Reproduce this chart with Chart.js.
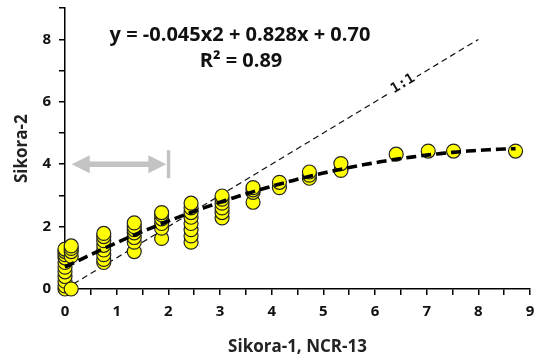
<!DOCTYPE html>
<html>
<head>
<meta charset="utf-8">
<script src="https://cdn.jsdelivr.net/npm/chart.js@4.4.1/dist/chart.umd.min.js"></script>
<style>
  html, body { margin: 0; padding: 0; background: #ffffff; }
  #wrap { width: 547px; height: 362px; }
</style>
</head>
<body>
<div id="wrap"><canvas id="c" width="547" height="362"></canvas></div>
<script>
// Paired readings: Sikora-1 (NCR-13) on x, Sikora-2 on y
const sikora1 = [
  0, 0, 0, 0, 0, 0, 0, 0, 0, 0, 0,
  0.12, 0.12, 0.12, 0.12, 0.12,
  0.75, 0.75, 0.75, 0.75, 0.75, 0.75, 0.75, 0.75,
  1.34, 1.34, 1.34, 1.34, 1.34, 1.34, 1.34,
  1.87, 1.87, 1.87, 1.87, 1.87, 1.87,
  2.44, 2.44, 2.44, 2.44, 2.44, 2.44, 2.44, 2.44,
  3.04, 3.04, 3.04, 3.04, 3.04, 3.04,
  3.64, 3.64, 3.64, 3.64,
  4.15, 4.15,
  4.73, 4.73, 4.73,
  5.34, 5.34,
  6.41, 7.03, 7.52, 8.72
];
const sikora2 = [
  0.0, 0.1, 0.25, 0.4, 0.55, 0.7, 0.85, 1.0, 1.1, 1.2, 1.28,
  0.0, 1.05, 1.2, 1.3, 1.38,
  0.85, 0.95, 1.1, 1.25, 1.4, 1.55, 1.68, 1.78,
  1.2, 1.5, 1.65, 1.8, 1.9, 2.0, 2.12,
  1.62, 1.95, 2.1, 2.25, 2.38, 2.45,
  1.5, 1.7, 1.9, 2.1, 2.3, 2.45, 2.6, 2.75,
  2.28, 2.45, 2.6, 2.75, 2.88, 2.98,
  2.78, 3.1, 3.18, 3.25,
  3.25, 3.42,
  3.55, 3.65, 3.75,
  3.8, 4.02,
  4.32, 4.42, 4.42, 4.42
];

// Quadratic fit coefficients (a·x² + b·x + c) and its R²
const fitA = -0.045, fitB = 0.828, fitC = 0.70, fitR2 = 0.89;
const fitRange = [0, 8.72];
const oneToOne = [0, 8];

// Gray range marker at Sikora-2 = 4, spanning Sikora-1 from 0 to 2
const rangeMarker = { y: 4, x0: 0.13, x1: 2.0, bar: 2.0 };

const xTickLabels = ['0', '1', '2', '3', '4', '5', '6', '7', '8', '9'];
const yTickLabels = ['0', '2', '4', '6', '8'];

const points = sikora1.map((x, i) => ({ x: x, y: sikora2[i] }));
const fitPoints = [];
for (let k = 0; k <= 88; k++) {
  const x = Math.min(fitRange[0] + k * 0.1, fitRange[1]);
  fitPoints.push({ x: x, y: fitA * x * x + fitB * x + fitC });
}
const idPoints = oneToOne.map(v => ({ x: v, y: v }));

const FONT = '"Open Sans", Lato, sans-serif';

const overlay = {
  id: 'overlay',
  afterDatasetsDraw(chart) {
    const ctx = chart.ctx;
    const xs = chart.scales.x, ys = chart.scales.y;
    ctx.save();

    // range marker: double arrow + end bar
    const yp = ys.getPixelForValue(rangeMarker.y);
    const xa = xs.getPixelForValue(rangeMarker.x0);
    const xb = xs.getPixelForValue(rangeMarker.x1) - 2;
    const head = 18, half = 9, shaft = 2.7;
    ctx.fillStyle = '#c3c3c3';
    ctx.beginPath();
    ctx.moveTo(xa, yp);
    ctx.lineTo(xa + head, yp - half);
    ctx.lineTo(xa + head, yp - shaft);
    ctx.lineTo(xb - head, yp - shaft);
    ctx.lineTo(xb - head, yp - half);
    ctx.lineTo(xb, yp);
    ctx.lineTo(xb - head, yp + half);
    ctx.lineTo(xb - head, yp + shaft);
    ctx.lineTo(xa + head, yp + shaft);
    ctx.lineTo(xa + head, yp + half);
    ctx.closePath();
    ctx.fill();
    const xbar = xs.getPixelForValue(rangeMarker.bar);
    ctx.fillRect(xbar - 1.5, yp - 14, 3.5, 28);

    // 1:1 label sitting on the identity line
    const lx = xs.getPixelForValue(6.55), ly = ys.getPixelForValue(6.55);
    const ang = Math.atan2(ys.getPixelForValue(8) - ys.getPixelForValue(0),
                           xs.getPixelForValue(8) - xs.getPixelForValue(0));
    ctx.translate(lx, ly);
    ctx.rotate(ang);
    ctx.font = 'bold 14px "DejaVu Sans Mono", monospace';
    const w = ctx.measureText('1:1').width;
    ctx.fillStyle = '#ffffff';
    ctx.fillRect(-w / 2 - 3, -7, w + 6, 12);
    ctx.fillStyle = '#111111';
    ctx.textAlign = 'center';
    ctx.textBaseline = 'middle';
    ctx.fillText('1:1', 0, -1);
    ctx.setTransform(1, 0, 0, 1, 0, 0);

    // fit equation
    ctx.fillStyle = '#111111';
    ctx.textAlign = 'center';
    ctx.textBaseline = 'middle';
    ctx.font = 'bold 20px ' + FONT;
    ctx.fillText('y = ' + fitA.toFixed(3) + 'x2 + ' + fitB.toFixed(3) + 'x + ' + fitC.toFixed(2), 240, 35);
    ctx.fillText('R² = ' + fitR2.toFixed(2), 241, 61);
    ctx.restore();
  }
};

new Chart(document.getElementById('c'), {
  type: 'scatter',
  data: {
    datasets: [
      {
        label: 'fit',
        type: 'line',
        data: fitPoints,
        borderColor: '#000000',
        borderWidth: 3.6,
        borderDash: [10, 5],
        pointRadius: 0,
        fill: false,
        tension: 0,
        clip: false,
        order: 0
      },
      {
        label: 'Sikora',
        data: points,
        backgroundColor: '#ffff00',
        borderColor: '#222222',
        borderWidth: 1.2,
        pointRadius: 7,
        clip: false,
        order: 1
      },
      {
        label: '1:1',
        type: 'line',
        data: idPoints,
        borderColor: '#111111',
        borderWidth: 1.2,
        borderDash: [6, 4],
        pointRadius: 0,
        fill: false,
        clip: false,
        order: 2
      }
    ]
  },
  options: {
    responsive: false,
    animation: false,
    events: [],
    layout: { padding: { top: 7, right: 17, left: 0, bottom: 0 } },
    plugins: { legend: { display: false }, tooltip: { enabled: false } },
    scales: {
      x: {
        type: 'linear',
        min: 0, max: 9,
        afterFit(s) { s.height = 73; },
        border: { color: '#000000', width: 1.5 },
        grid: { display: true, drawOnChartArea: false, drawTicks: true, tickLength: 6, color: '#000000', lineWidth: 1.5 },
        ticks: {
          stepSize: 0.5,
          padding: 8,
          color: '#111111',
          font: { family: FONT, size: 15, weight: 'bold' },
          maxRotation: 0,
          autoSkip: false,
          callback(v) {
            return Number.isInteger(v) ? xTickLabels[v] : '';
          }
        },
        title: {
          display: true,
          text: 'Sikora-1, NCR-13',
          color: '#222222',
          font: { family: FONT, size: 17, weight: 'bold' },
          padding: { top: 6, bottom: 5 }
        }
      },
      y: {
        type: 'linear',
        min: 0, max: 9,
        afterFit(s) { s.width = 65; s.paddingTop = 0; },
        border: { color: '#000000', width: 1.5 },
        grid: { display: true, drawOnChartArea: false, drawTicks: true, tickLength: 6, color: '#000000', lineWidth: 1.5 },
        ticks: {
          stepSize: 1,
          padding: 8,
          color: '#111111',
          font: { family: FONT, size: 15, weight: 'bold' },
          autoSkip: false,
          callback(v) {
            return (v % 2 === 0) ? yTickLabels[v / 2] : '';
          }
        },
        title: {
          display: true,
          text: 'Sikora-2',
          color: '#222222',
          font: { family: FONT, size: 17, weight: 'bold' },
          padding: { top: 12, bottom: 0 }
        }
      }
    }
  },
  plugins: [overlay]
});
</script>
</body>
</html>
